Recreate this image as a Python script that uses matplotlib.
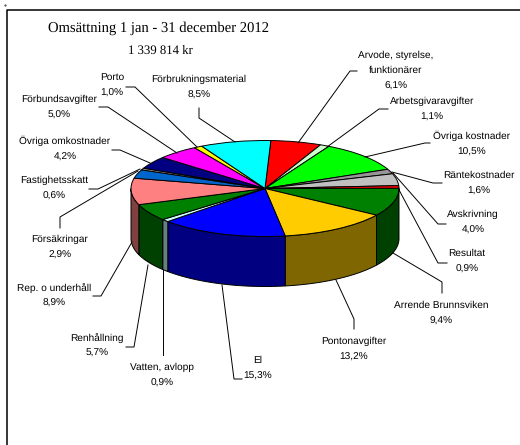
import numpy as np
import matplotlib
matplotlib.use('Agg')
import matplotlib.pyplot as plt
from matplotlib.patches import Wedge
from matplotlib.transforms import Affine2D

plt.rcParams['text.hinting'] = 'no_hinting'

labels = ['Arvode, styrelse,\nfunktionärer', 'Arbetsgivaravgifter', 'Övriga kostnader', 'Räntekostnader',
          'Avskrivning', 'Resultat', 'Arrende Brunnsviken', 'Pontonavgifter', 'El', 'Vatten, avlopp',
          'Renhållning', 'Rep. o underhåll', 'Försäkringar', 'Fastighetsskatt', 'Övriga omkostnader',
          'Förbundsavgifter', 'Porto', 'Förbrukningsmaterial']
values = [6.1, 1.1, 10.5, 1.6, 4.0, 0.9, 9.4, 13.2, 15.3, 0.9, 5.7, 8.9, 2.9, 0.6, 4.2, 5.0, 1.0, 8.5]
top_colors = ['#FF0000', '#CCFFCC', '#00FF00', '#969696', '#C0C0C0', '#FF0000', '#008000', '#FFCC00', '#0000FF',
              '#CCFFFF', '#008000', '#FF8080', '#0066CC', '#969696', '#000080', '#FF00FF', '#FFFF00', '#00FFFF']
side_colors = ['#800000', '#667F66', '#008000', '#4B4B4B', '#606060', '#800000', '#004000', '#806600', '#000080',
               '#667F7F', '#004000', '#804040', '#003366', '#4B4B4B', '#000040', '#800080', '#808000', '#008080']
# text centre x, centre y of first line, then the leader line in pixels
label_pos = [(396, 55), (432, 101), (472, 135), (479, 175), (473, 214), (467, 253), (441, 305), (354, 341),
             (258, 360), (162, 367), (97, 337), (54, 287), (60, 239), (54, 180), (65, 140), (59, 99), (112, 77), (199, 79)]
leaders = [[(357, 71), (350, 71), (298, 143)], [(388, 109), (379, 109), (327, 147)], [(430, 143), (425, 143), (365, 157)],
           [(442, 183), (433, 183), (392, 172)], [(446, 224), (438, 224), (393, 173)], [(447, 263), (438, 263), (398, 188)],
           [(442, 293), (442, 282), (393, 253)], [(354, 329), (354, 319), (336, 280)], [(242, 379), (234, 379), (222, 285)],
           [(163, 355), (163, 270)], [(126, 347), (134, 347), (148, 265)], [(93, 296), (101, 296), (132, 242)],
           [(60, 228), (60, 217), (138, 171)], [(89, 189), (98, 189), (140, 169)], [(112, 150), (120, 150), (150, 163)],
           [(99, 107), (108, 107), (177, 153)], [(126, 87), (135, 87), (197, 147)], [(199, 108), (199, 118), (235, 142)]]

cx, cy, rx, ry, depth = 265, 188.5, 134, 48, 50
start = -87.5

fig = plt.figure(figsize=(5.2, 4.45), dpi=100)
ax = fig.add_axes([0, 0, 1, 1])
ax.set_xlim(0, 520)
ax.set_ylim(445, 0)
ax.axis('off')

# frame, only left and top show in the crop
ax.plot([7, 7, 520], [445, 10, 10], color='black', lw=1.1)

edges = start + np.cumsum([0] + values) / sum(values) * 360

# side wall, only the part facing us
for a, b, col in zip(edges[:-1], edges[1:], side_colors):
    lo, hi = max(a, 0), min(b, 180)
    if lo >= hi:
        continue
    t = np.radians(np.linspace(lo, hi, 40))
    x = cx + rx * np.cos(t)
    y = cy + ry * np.sin(t)
    ax.fill(np.r_[x, x[::-1]], np.r_[y, y[::-1] + depth], facecolor=col, edgecolor='black', lw=0.7, zorder=2)

tr = Affine2D().scale(1, ry / rx).translate(cx, cy) + ax.transData
for a, b, col in zip(edges[:-1], edges[1:], top_colors):
    ax.add_patch(Wedge((0, 0), rx, a, b, facecolor=col, edgecolor='black', lw=0.7, transform=tr, zorder=3))

for pts in leaders:
    xs, ys = zip(*pts)
    ax.plot(xs, ys, color='black', lw=0.7, zorder=4)

for lab, val, (x, y) in zip(labels, values, label_pos):
    s = lab + '\n' + f'{val:.1f}%'.replace('.', ',')
    ax.text(x, y - 4.5, s, ha='center', va='top', fontsize=7.3, family='Liberation Sans',
            linespacing=1.85, color='black', zorder=5)

ax.text(159, 28, 'Omsättning 1 jan - 31 december 2012', ha='center', va='center', fontsize=10.5, family='Liberation Serif')
ax.text(160, 51, '1 339 814 kr', ha='center', va='center', fontsize=9.2, family='Liberation Serif')
ax.plot([5], [5], marker='s', ms=0.6, color='#555555')

fig.savefig('out.png', dpi=100)
